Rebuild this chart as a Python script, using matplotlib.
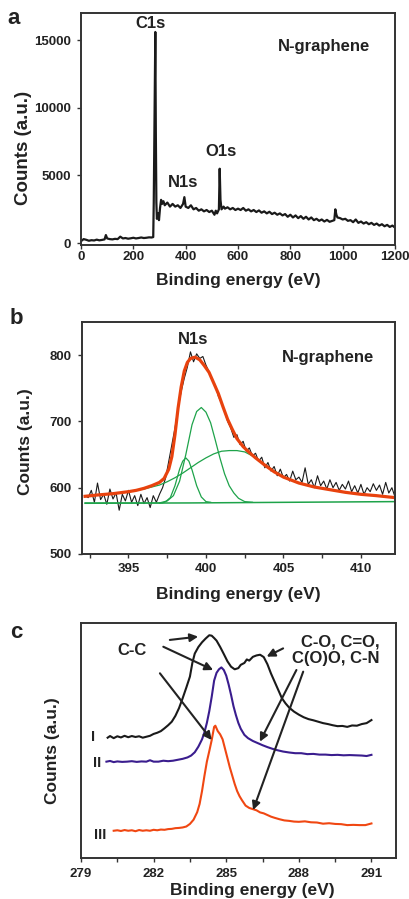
import numpy as np
import matplotlib
matplotlib.use("Agg")
import matplotlib.pyplot as plt
from matplotlib.ticker import MultipleLocator

plt.rcParams['font.family'] = ['Liberation Sans', 'DejaVu Sans']
plt.rcParams['font.weight'] = 'bold'

INK = '#222222'

# ---- panel a: survey spectrum ----
survey_e = [0, 10, 20, 30, 40, 50, 60, 70, 80, 90, 95, 100, 110, 120, 130, 140, 150, 160, 170, 180,
            190, 200, 210, 220, 230, 240, 250, 260, 270, 276, 278, 281, 284, 286, 288, 290, 295, 298,
            302, 306, 310, 315, 320, 330, 340, 350, 360, 370, 380, 390, 395, 400, 410, 420, 430, 440,
            450, 460, 470, 480, 490, 500, 510, 515, 520, 527, 530, 533, 537, 545, 550, 560, 570, 580,
            590, 600, 610, 620, 630, 640, 650, 660, 670, 680, 690, 700, 710, 720, 730, 740, 750, 760,
            770, 780, 790, 800, 810, 820, 830, 840, 850, 860, 870, 880, 890, 900, 910, 920, 930, 940,
            950, 960, 968, 972, 976, 980, 990, 1000, 1010, 1020, 1030, 1040, 1050, 1060, 1070, 1080,
            1090, 1100, 1110, 1120, 1130, 1140, 1150, 1160, 1170, 1180, 1190, 1200]
survey_counts = [150, 300, 250, 180, 220, 200, 260, 210, 240, 280, 600, 350, 300, 280, 320, 300, 480, 350, 380, 330,
                 360, 400, 350, 380, 420, 380, 400, 430, 420, 450, 3000, 9000, 15600, 8000, 3000, 1800, 2200, 1700,
                 2600, 3200, 2900, 3100, 2800, 3000, 2700, 2900, 2700, 2800, 2600, 2900, 3400, 2700, 2600, 2800, 2500, 2600,
                 2400, 2500, 2350, 2450, 2300, 2400, 2100, 2400, 2200, 2500, 5500, 3200, 2500, 2700, 2550, 2650, 2500, 2600,
                 2450, 2550, 2450, 2600, 2400, 2500, 2350, 2450, 2300, 2420, 2250, 2350, 2200, 2320, 2150, 2250, 2100, 2200,
                 2050, 2150, 1950, 2100, 1900, 2050, 1850, 2000, 1800, 1950, 1750, 1900, 1700, 1800, 1650, 1750, 1600, 1720,
                 1580, 1650, 1700, 2500, 2100, 1900, 1850, 1750, 1800, 1650, 1700, 1550, 1750, 1500, 1600, 1450,
                 1550, 1400, 1500, 1350, 1450, 1300, 1400, 1250, 1350, 1200, 1300, 1150]

# ---- panel b: N1s high resolution ----
n1s_counts = [588, 585, 596, 578, 607, 582, 590, 575, 598, 583,
              592, 566, 590, 580, 596, 578, 588, 573, 590, 576,
              585, 570, 588, 578, 590, 600, 615, 640, 665, 690,
              720, 745, 765, 782, 805, 790, 802, 795, 798, 785,
              775, 762, 755, 738, 728, 715, 700, 690, 676, 680,
              665, 670, 655, 660, 648, 652, 640, 646, 630, 638,
              625, 632, 618, 628, 615, 620, 610, 625, 612, 616,
              608, 630, 605, 612, 600, 618, 603, 610, 598, 612,
              600, 608, 596, 605, 598, 610, 594, 603, 592, 605,
              590, 600, 594, 606, 596, 604, 590, 608, 592, 600,
              586]
n1s_e = np.round(np.arange(392.2, 412.21, 0.2), 1)

fit_e = [392.2, 393, 394, 395, 395.5, 396, 396.5, 397, 397.3, 397.6, 397.8, 398.0, 398.2, 398.4, 398.6,
         398.8, 399.0, 399.3, 399.6, 399.9, 400.2, 400.5, 400.8, 401.1, 401.4, 401.7, 402.0, 402.4,
         402.8, 403.2, 403.8, 404.4, 405.0, 406.0, 407.0, 408.0, 409.0, 410.0, 411.0, 412.2]
fit_counts = [587, 589, 591, 594, 596, 599, 603, 608, 614, 628, 647, 680, 720, 752, 776,
              789, 795, 797, 793, 784, 774, 758, 742, 722, 703, 688, 674, 662,
              653, 645, 634, 624, 616, 607, 601, 597, 593, 590, 588, 585]

base_e = [392.2, 399.0, 412.2]
base_counts = [576.5, 577, 579]

pk1_e = [392.2, 397.2, 397.4, 397.7, 398.0, 398.3, 398.5, 398.7, 398.9, 399.1, 399.4, 399.7, 400.0, 400.3]
pk1_counts = [577, 577, 579, 585, 603, 628, 640, 645, 640, 627, 603, 586, 579, 578]

pk2_e = [397.0, 397.5, 397.9, 398.3, 398.7, 399.1, 399.4, 399.7, 400.0, 400.3, 400.6, 400.9, 401.2,
         401.5, 401.8, 402.1, 402.5, 403.0]
pk2_counts = [577, 580, 588, 610, 650, 695, 715, 721, 714, 698, 672, 645, 621,
              603, 592, 584, 579, 578]

pk3_e = [392.2, 393, 394, 395, 396, 397, 397.5, 398, 398.5, 399, 399.5, 400, 400.5, 401, 401.5, 402,
         402.5, 403, 403.5, 404, 404.5, 405, 406, 407, 408, 409, 410, 411, 412.2]
pk3_counts = [587, 589, 591, 594, 598, 604, 609, 615, 622, 630, 638, 645, 651, 655, 656, 656,
              654, 648, 640, 631, 624, 617, 607, 601, 597, 593, 590, 588, 585]

# ---- panel c: C1s spectra (arbitrary units, offset) ----
c1_e = [280.1, 280.2, 280.35, 280.5, 280.65, 280.8, 280.95, 281.1, 281.25, 281.4, 281.55, 281.7, 281.85,
        282.0, 282.15, 282.3, 282.45, 282.6, 282.75, 282.9, 283.05, 283.2, 283.35, 283.5, 283.6, 283.7,
        283.85, 284.0, 284.15, 284.3, 284.4, 284.5, 284.6, 284.75, 284.9, 285.05, 285.2, 285.35, 285.5,
        285.6, 285.75, 285.85, 285.95, 286.1, 286.25, 286.4, 286.55, 286.7, 286.85, 287.0, 287.15, 287.3,
        287.45, 287.6, 287.8, 288.0, 288.2, 288.4, 288.6, 288.8, 289.0, 289.2, 289.4, 289.6, 289.8,
        290.0, 290.2, 290.4, 290.6, 290.8, 291.0]
c1_i = [51.2, 51.9, 51.0, 51.8, 51.3, 52.0, 51.4, 51.9, 51.5, 51.8, 51.2, 51.6, 52.0,
        52.8, 53.3, 54.0, 55.2, 56.5, 58.0, 60.5, 63.8, 68.0, 72.5, 77.2, 83.0, 87.0,
        89.8, 91.8, 93.4, 94.8, 94.6, 93.6, 92.5, 89.8, 86.8, 83.7, 81.4, 80.3, 80.8,
        82.2, 83.0, 84.5, 84.0, 85.6, 86.2, 86.5, 85.5, 82.5, 78.5, 75.0, 71.5, 68.0,
        65.8, 64.0, 62.3, 61.0, 59.9, 59.1, 58.6, 58.0, 57.4, 57.0, 56.5, 56.1, 56.2,
        55.8, 56.4, 56.3, 57.0, 57.4, 58.7]

c2_e = [280.05, 280.2, 280.35, 280.5, 280.7, 280.9, 281.1, 281.3, 281.5, 281.7, 281.85, 282.0, 282.2,
        282.4, 282.6, 282.8, 283.0, 283.2, 283.4, 283.55, 283.7, 283.85, 284.0, 284.1, 284.2, 284.3,
        284.4, 284.5, 284.6, 284.7, 284.8, 284.9, 285.0, 285.1, 285.2, 285.3, 285.4, 285.5, 285.6,
        285.75, 285.9, 286.1, 286.3, 286.5, 286.7, 286.9, 287.1, 287.35, 287.6, 287.85, 288.1, 288.35,
        288.6, 288.85, 289.1, 289.35, 289.6, 289.85, 290.1, 290.35, 290.6, 290.8, 291.0]
c2_i = [41.0, 41.3, 40.8, 41.1, 40.9, 41.0, 41.2, 40.9, 41.1, 41.0, 41.6, 41.0, 41.0,
        41.4, 41.2, 41.4, 41.8, 42.2, 42.8, 43.6, 45.0, 47.4, 50.5, 53.5, 57.5, 62.5,
        68.6, 75.5, 78.8, 80.3, 81.1, 80.0, 77.6, 73.8, 69.4, 64.6, 60.8, 57.5, 55.0,
        52.4, 51.0, 49.8, 48.9, 48.0, 47.2, 46.5, 45.9, 45.3, 44.9, 44.6, 44.6, 44.2,
        44.3, 44.0, 44.0, 43.8, 43.9, 43.7, 43.8, 43.7, 43.6, 43.4, 43.9]

c3_e = [280.35, 280.5, 280.65, 280.8, 280.95, 281.1, 281.25, 281.4, 281.55, 281.7, 281.85, 282.0, 282.15,
        282.3, 282.45, 282.6, 282.75, 282.9, 283.05, 283.2, 283.35, 283.5, 283.65, 283.8, 283.9, 284.0,
        284.1, 284.2, 284.3, 284.4, 284.5, 284.55, 284.65, 284.75, 284.85, 284.95, 285.05, 285.15, 285.25,
        285.35, 285.45, 285.55, 285.65, 285.8, 285.95, 286.1, 286.25, 286.4, 286.55, 286.7, 286.85, 287.0,
        287.2, 287.4, 287.6, 287.8, 288.0, 288.25, 288.5, 288.75, 289.0, 289.25, 289.5, 289.75, 290.0,
        290.25, 290.5, 290.75, 291.0]
c3_i = [11.6, 11.8, 11.5, 11.9, 11.6, 11.8, 11.4, 11.9, 11.6, 11.8, 11.6, 12.0, 11.8,
        12.1, 12.0, 12.3, 12.4, 12.7, 12.8, 13.0, 13.4, 14.5, 16.3, 19.5, 23.0, 28.5,
        35.0, 41.0, 45.5, 50.2, 55.8, 56.3, 54.0, 52.6, 50.5, 46.5, 42.5, 38.5, 35.0,
        31.5, 28.5, 26.3, 24.6, 22.3, 21.3, 20.8, 20.3, 19.4, 19.0, 18.3, 17.6, 17.1,
        16.5, 16.0, 15.8, 15.5, 15.4, 15.6, 15.2, 15.1, 14.6, 14.8, 14.5, 14.4, 14.0,
        14.1, 14.0, 14.0, 14.7]

W, H = 410, 899


def style(ax, xpad):
    for s in ax.spines.values():
        s.set_linewidth(1.4)
        s.set_color('#333333')
    ax.tick_params(direction='out', length=2.8, width=1.0, color='#333333',
                   labelsize=9.5, labelcolor=INK)
    ax.tick_params(axis='x', pad=xpad)
    ax.tick_params(axis='y', pad=4.5)
    ax.tick_params(which='minor', direction='out', length=2.8, width=1.0, color='#333333')
    for lab in ax.get_xticklabels() + ax.get_yticklabels():
        lab.set_fontweight('bold')


def ftext(x, y, s, size, **kw):
    # place text at pixel position of the figure
    fig.text(x / W, 1 - y / H, s, ha='center', va='center', fontsize=size,
             fontweight='bold', color=INK, **kw)


fig = plt.figure(figsize=(4.10, 8.99), dpi=100)

# panel a
ax1 = fig.add_axes([0.1976, 0.728, 0.7658, 0.2575])
ax1.plot(survey_e, survey_counts, color='#1a1a1a', lw=1.6)
ax1.set_xlim(0, 1200)
ax1.set_ylim(-100, 17000)
ax1.xaxis.set_major_locator(MultipleLocator(200))
ax1.yaxis.set_major_locator(MultipleLocator(5000))
style(ax1, 1.5)
ax1.text(264, 16200, 'C1s', ha='center', va='center', fontsize=12, fontweight='bold', color=INK)
ax1.text(389, 4500, 'N1s', ha='center', va='center', fontsize=12, fontweight='bold', color=INK)
ax1.text(534, 6780, 'O1s', ha='center', va='center', fontsize=12, fontweight='bold', color=INK)
ax1.text(929, 14500, 'N-graphene', ha='center', va='center', fontsize=12, fontweight='bold', color=INK)
ftext(238, 280, 'Binding energy (eV)', 12.5)
ftext(24, 148, 'Counts (a.u.)', 13.5, rotation=90)
ftext(14, 18, 'a', 16)

# panel b
ax2 = fig.add_axes([0.2, 0.3838, 0.7634, 0.258])
ax2.plot(n1s_e, n1s_counts, color='#1a1a1a', lw=0.8)
ax2.plot(base_e, base_counts, color='#1ea34a', lw=1.1)
ax2.plot(pk1_e, pk1_counts, color='#1ea34a', lw=0.9)
ax2.plot(pk2_e, pk2_counts, color='#1ea34a', lw=0.9)
ax2.plot(pk3_e, pk3_counts, color='#1ea34a', lw=0.9)
ax2.plot(fit_e, fit_counts, color='#e8420e', lw=2.3)
ax2.set_xlim(392.0, 412.2)
ax2.set_ylim(500, 850)
ax2.xaxis.set_major_locator(MultipleLocator(5))
ax2.xaxis.set_minor_locator(MultipleLocator(2.5))
ax2.yaxis.set_major_locator(MultipleLocator(100))
style(ax2, 4)
ax2.text(399.2, 824, 'N1s', ha='center', va='center', fontsize=12, fontweight='bold', color=INK)
ax2.text(407.9, 796, 'N-graphene', ha='center', va='center', fontsize=12, fontweight='bold', color=INK)
ftext(238, 595, 'Binding energy (eV)', 12.5)
ftext(25.5, 442, 'Counts (a.u.)', 12.5, rotation=90)
ftext(16.7, 318, 'b', 16)

# panel c
ax3 = fig.add_axes([0.1976, 0.0456, 0.7674, 0.2614])
ax3.plot(c1_e, c1_i, color='#1a1a1a', lw=1.5)
ax3.plot(c2_e, c2_i, color='#3a1d8e', lw=1.5)
ax3.plot(c3_e, c3_i, color='#f04712', lw=1.5)
ax3.set_xlim(279, 292)
ax3.set_ylim(0, 100)
ax3.xaxis.set_major_locator(MultipleLocator(3))
ax3.xaxis.set_minor_locator(MultipleLocator(1.5))
ax3.set_yticks([])
style(ax3, 4.5)
ax3.text(281.1, 88.5, 'C-C', ha='center', va='center', fontsize=12, fontweight='bold', color=INK)
ax3.text(291.35, 88.5, 'C-O, C=O,\nC(O)O, C-N', ha='right', va='center', fontsize=12,
         fontweight='bold', color=INK, linespacing=1.15)
for lab, xx, yy in [('I', 279.51, 51.6), ('II', 279.65, 40.3), ('III', 279.78, 9.8)]:
    ax3.text(xx, yy, lab, ha='center', va='center', fontsize=10.5, fontweight='bold', color=INK)

arrows = [((282.67, 92.8), (283.84, 94.2)),
          ((282.4, 89.9), (284.46, 80.0)),
          ((282.26, 78.6), (284.4, 50.2)),
          ((287.35, 89.2), (286.67, 85.7)),
          ((287.9, 80.0), (286.39, 49.5)),
          ((288.18, 79.3), (286.11, 20.4))]
for (x0, y0), (x1, y1) in arrows:
    ax3.annotate('', xy=(x1, y1), xytext=(x0, y0),
                 arrowprops=dict(arrowstyle='-|>', color='#222222', lw=1.5,
                                 mutation_scale=12, shrinkA=0, shrinkB=0))
ftext(252, 890, 'Binding energy (eV)', 12.5)
ftext(52.5, 751, 'Counts (a.u.)', 12.5, rotation=90)
ftext(16.7, 632, 'c', 16)

fig.savefig('out.png', dpi=100)
